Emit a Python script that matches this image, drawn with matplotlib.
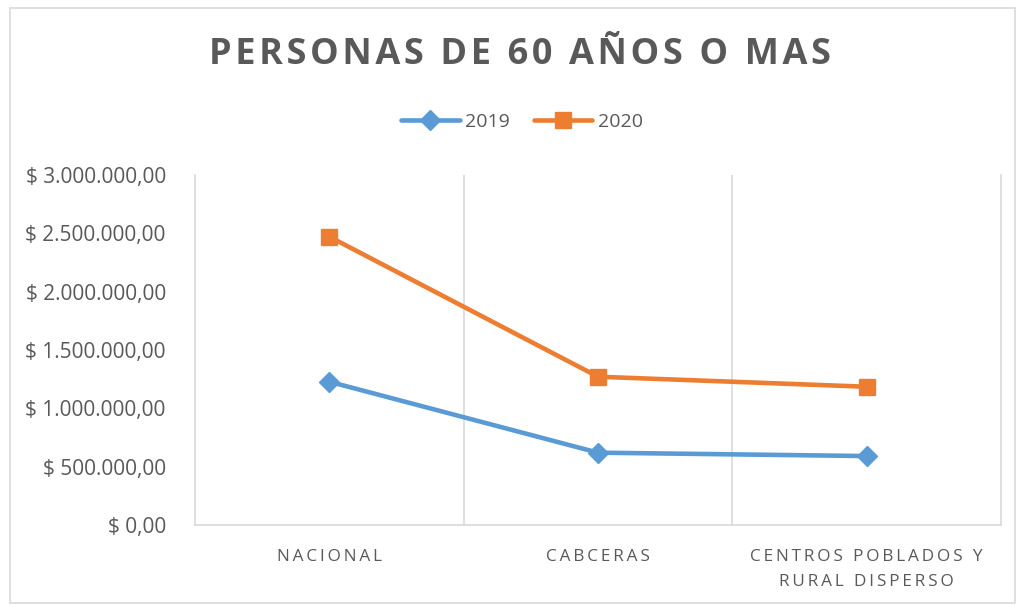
import matplotlib
matplotlib.use("Agg")
import matplotlib.pyplot as plt
from matplotlib.patches import Rectangle
from matplotlib.ticker import FuncFormatter

categories = ["NACIONAL", "CABCERAS", "CENTROS POBLADOS Y\nRURAL DISPERSO"]
series_names = ["2019", "2020"]
values_2019 = [1228000, 620000, 591000]
values_2020 = [2471000, 1271000, 1185000]
yticks = [0, 500000, 1000000, 1500000, 2000000, 2500000, 3000000]
title = "PERSONAS DE 60 AÑOS O MAS"

FONT = ['Open Sans', 'DejaVu Sans']
TXT = '#595959'
plt.rcParams['font.family'] = FONT

def spaced(s, sep='\u200a'):
    return '\n'.join(sep.join(line) for line in s.split('\n'))

fig = plt.figure(figsize=(10.17, 6.05), dpi=100)
ax = fig.add_axes([195/1017, 80/605, 806/1017, 350/605])

x = list(range(len(categories)))
ax.plot(x, values_2019, color='#5B9BD5', lw=3.3, marker='D', ms=10, label=series_names[0], solid_capstyle='round')
ax.plot(x, values_2020, color='#ED7D31', lw=3.3, marker='s', ms=11, label=series_names[1], solid_capstyle='round')

ax.set_xlim(-0.5, len(categories) - 0.5)
ax.set_ylim(0, 3000000)
ax.set_yticks(yticks)
def fmt(v, pos):
    if v == 0:
        return "$ 0,00"
    s = f"{int(v):,}".replace(",", ".")
    return f"$ {s},00"
ax.yaxis.set_major_formatter(FuncFormatter(fmt))
ax.set_xticks(x)
ax.set_xticklabels([spaced(c, '\u2009') for c in categories], fontsize=12.3, color=TXT, linespacing=1.75)
for b in [0.5, 1.5]:
    ax.axvline(b, color='#D9D9D9', lw=1.2, zorder=0)
for s in ['top']:
    ax.spines[s].set_visible(False)
for s in ['left', 'right', 'bottom']:
    ax.spines[s].set_color('#D9D9D9')
    ax.spines[s].set_linewidth(1.2)
ax.tick_params(axis='y', length=0, labelsize=15, colors=TXT, pad=21)
ax.tick_params(axis='x', length=0, pad=17)

fig.text(520/1017, 1 - 55/605, spaced(title, '\u200a'), ha='center', va='center', fontsize=26,
         fontweight='bold', color=TXT)

leg = fig.legend(loc='center', bbox_to_anchor=(522/1017, 1 - 122/605), ncol=2, frameon=False,
                 fontsize=14, handlelength=3.0, columnspacing=1.2, handletextpad=0.3)
for t in leg.get_texts():
    t.set_color(TXT)

fig.patches.append(Rectangle((10/1017, 2/605), 1005/1017, 595/605, transform=fig.transFigure,
                             fill=False, edgecolor='#D9D9D9', lw=1.2))
fig.savefig('out.png', dpi=100, facecolor='white')
